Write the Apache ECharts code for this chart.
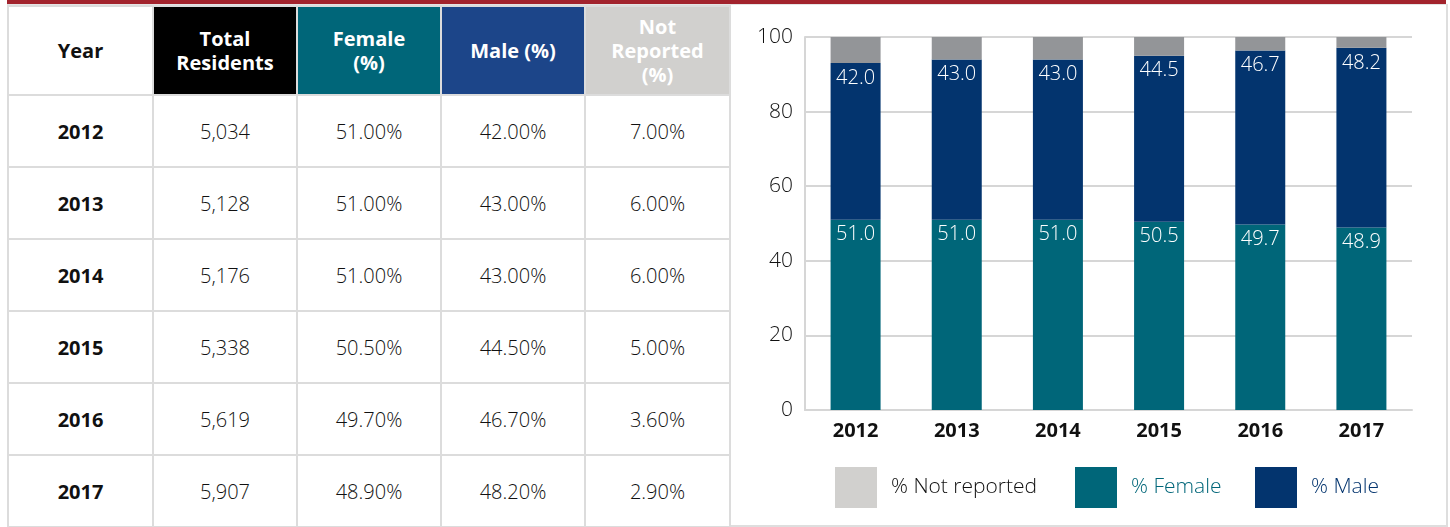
<!DOCTYPE html>
<html>
<head>
<meta charset="utf-8">
<script src="https://cdn.jsdelivr.net/npm/echarts@6/dist/echarts.min.js"></script>
<style>
  html, body { margin: 0; padding: 0; background: #fff; }
  body { width: 1450px; height: 527px; position: relative; overflow: hidden;
         font-family: 'Open Sans', 'Noto Sans', sans-serif; }
  #topbar { position: absolute; left: 7px; top: 0; width: 1439px; height: 4px; background: #a2232d; }
  #frame { position: absolute; left: 7px; top: 4px; width: 1437px; height: 520px;
           border: 2px solid #dedede; border-top: 1px solid #e4e4e4; }
  #chart { position: absolute; left: 0; top: 0; width: 1450px; height: 527px; }
  #tbl { position: absolute; left: 7px; top: 5px; width: 722px; table-layout: fixed;
         border-collapse: collapse; background: #fff; }
  #tbl td, #tbl th { border: 2px solid #dcdcdc; text-align: center; padding: 0; overflow: hidden; }
  #tbl th { height: 87px; font-size: 20px; font-weight: 700; color: #fff; line-height: 24px; }
  #tbl td { height: 70px; font-size: 20px; color: #111; font-weight: 300; }
  #tbl td.yr { font-weight: 700; color: #111; }
</style>
</head>
<body>
<div id="chart"></div>
<div id="frame"></div>
<div id="topbar"></div>
<table id="tbl"></table>
<script>
// data
const years = ['2012', '2013', '2014', '2015', '2016', '2017'];
const totalResidents = [5034, 5128, 5176, 5338, 5619, 5907];
const femalePct = [51.0, 51.0, 51.0, 50.5, 49.7, 48.9];
const malePct = [42.0, 43.0, 43.0, 44.5, 46.7, 48.2];
const notReportedPct = [7.0, 6.0, 6.0, 5.0, 3.6, 2.9];
const yTicks = [0, 20, 40, 60, 80, 100];

const COLORS = {
  female: '#006679',
  male: '#03346e',
  maleHeader: '#1c4589',
  notReported: '#939598',
  notReportedLight: '#d1d0ce',
  text: '#111111'
};

// table on the left, built from the arrays
function buildTable() {
  const tbl = document.getElementById('tbl');
  const widths = [145, 144, 144, 144, 145];
  const headers = [
    { text: 'Year', bg: '#fff', color: '#111' },
    { text: 'Total<br>Residents', bg: '#000', color: '#fff' },
    { text: 'Female<br>(%)', bg: COLORS.female, color: '#fff' },
    { text: 'Male (%)', bg: COLORS.maleHeader, color: '#fff' },
    { text: 'Not<br>Reported<br>(%)', bg: COLORS.notReportedLight, color: '#fff' }
  ];
  let html = '<colgroup>' + widths.map(w => `<col style="width:${w}px">`).join('') + '</colgroup>';
  html += '<tr>';
  headers.forEach(h => {
    html += `<th style="background:${h.bg};color:${h.color}">${h.text}</th>`;
  });
  html += '</tr>';
  years.forEach((y, i) => {
    html += '<tr>';
    html += `<td class="yr">${y}</td>`;
    html += `<td>${totalResidents[i].toLocaleString('en-US')}</td>`;
    html += `<td>${femalePct[i].toFixed(2)}%</td>`;
    html += `<td>${malePct[i].toFixed(2)}%</td>`;
    html += `<td>${notReportedPct[i].toFixed(2)}%</td>`;
    html += '</tr>';
  });
  tbl.innerHTML = html;
}
buildTable();

const FONT = "'Open Sans', 'Noto Sans', sans-serif";

const barLabel = {
  show: true,
  position: 'insideTop',
  distance: 5,
  color: '#fff',
  fontSize: 20,
  fontWeight: 300,
  fontFamily: FONT,
  formatter: p => p.value.toFixed(1)
};

function legendAt(left, name, textColor, iconColor) {
  return {
    left: left,
    top: 467,
    padding: 0,
    itemWidth: 42,
    itemHeight: 41,
    itemGap: 0,
    icon: 'rect',
    selectedMode: false,
    data: [{ name: name, itemStyle: { color: iconColor }, textStyle: { color: textColor } }],
    textStyle: { fontSize: 21, fontWeight: 300, fontFamily: FONT, padding: [0, 0, 0, 9] }
  };
}

const chart = echarts.init(document.getElementById('chart'));
chart.setOption({
  animation: false,
  grid: { left: 805, right: 38, top: 37, bottom: 117, containLabel: false },
  legend: [
    legendAt(835, '% Not reported', COLORS.text, COLORS.notReportedLight),
    legendAt(1075, '% Female', COLORS.female, COLORS.female),
    legendAt(1255, '% Male', COLORS.male, COLORS.male)
  ],
  xAxis: {
    type: 'category',
    data: years,
    axisLine: { lineStyle: { color: '#d6d6d6', width: 2 } },
    axisTick: { show: false },
    axisLabel: { color: '#111', fontSize: 20, fontWeight: 'bold', fontFamily: FONT, margin: 11 }
  },
  yAxis: {
    type: 'value',
    min: yTicks[0],
    max: yTicks[yTicks.length - 1],
    interval: yTicks[1] - yTicks[0],
    axisLine: { show: true, lineStyle: { color: '#d6d6d6', width: 2 } },
    splitLine: { lineStyle: { color: '#d6d6d6', width: 2 } },
    axisLabel: { color: COLORS.text, fontSize: 21, fontWeight: 300, fontFamily: FONT, margin: 12 }
  },
  series: [
    {
      name: '% Female', type: 'bar', stack: 'total', barWidth: 50,
      data: femalePct, itemStyle: { color: COLORS.female }, label: barLabel
    },
    {
      name: '% Male', type: 'bar', stack: 'total', barWidth: 50,
      data: malePct, itemStyle: { color: COLORS.male }, label: barLabel
    },
    {
      name: '% Not reported', type: 'bar', stack: 'total', barWidth: 50,
      data: notReportedPct, itemStyle: { color: COLORS.notReported }
    }
  ]
});
</script>
</body>
</html>
